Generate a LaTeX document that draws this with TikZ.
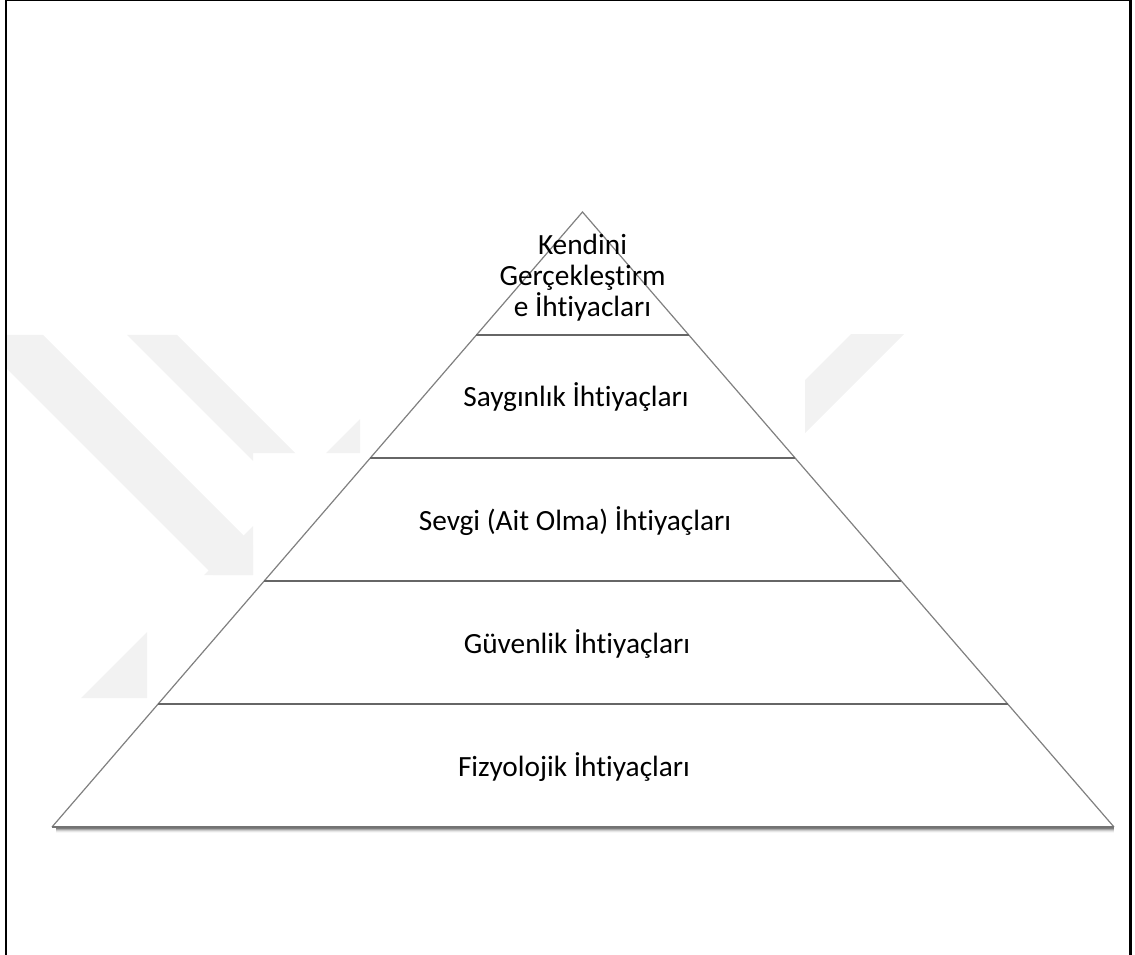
\documentclass[tikz,border=0pt]{standalone}
\usepackage{fontspec}
\setmainfont{Carlito}[Ligatures={NoCommon},RawFeature={-liga;-clig;-calt}]
\usetikzlibrary{calc}
\begin{document}
\begin{tikzpicture}[x=0.75pt,y=-0.75pt,
  side/.style={draw=black!50,line width=0.9pt},
  tier/.style={draw=black!60,line width=1.4pt},
  lbl/.style={font=\fontsize{22}{24}\selectfont,inner sep=0pt,anchor=base},
  wm/.style={fill=black!5,draw=none},
  frame/.style={draw=black,line width=1.9pt}]
\useasboundingbox (0,0) rectangle (1135,955);
% faint watermark
\begin{scope}
  \clip (7,335) -- (360,335) -- (360,453) -- (253,453) -- (253,575) -- (147,575) -- (147,698) -- (7,698) -- cycle;
  \fill[wm] (-62,300) -- (8,300) -- (408,700) -- (338,700) -- cycle;
  \fill[wm] (92,300) -- (142,300) -- (542,700) -- (492,700) -- cycle;
  \fill[wm] (479,300) -- (900,300) -- (900,800) -- (-21,800) -- cycle;
\end{scope}
\begin{scope}
  \clip (805,335) rectangle (1129,955);
  \fill[wm] (885,300) -- (938,300) -- (738,500) -- (685,500) -- cycle;
\end{scope}
% frame
\draw[frame] (6,955) -- (6,0);
\draw[frame] (1130.7,955) -- (1130.7,0);
\draw[draw=black,line width=1pt] (5,0.7) -- (1132,0.7);
% pyramid
\coordinate (apex) at (582.5,212);
\coordinate (bl) at (52,827);
\coordinate (br) at (1114,827);
\foreach \d/\o in {1/0.35,2/0.24,3/0.14,4/0.07,5/0.03}
  \draw[black,opacity=\o,line width=0.8pt] ($(bl)+(4,\d)$) -- ($(br)+(0,\d)$);
\fill[white] (apex) -- (bl) -- (br) -- cycle;
\draw[side] (bl) -- (apex) -- (br);
\draw[side,draw=black!55] (bl) -- (br);
\foreach \t in {0.2,0.4,0.6,0.8}
  \draw[tier] ($(apex)!\t!(bl)$) -- ($(apex)!\t!(br)$);
% labels
\node[lbl] (k1) at (582.5,255) {Kendini};
\node[lbl] (k2) at (582.5,286) {Gerçekleştirm};
\node[lbl] (k3) at (582.5,317) {e İhtiyacları};
\node[lbl] (s) at (576,406.7) {Saygınlık İhtiyaçları};
\node[lbl] (a) at (575,530) {Sevgi (Ait Olma) İhtiyaçları};
\node[lbl] (g) at (577,653.3) {Güvenlik İhtiyaçları};
\node[lbl] (f) at (574,776.7) {Fizyolojik İhtiyaçları};
\end{tikzpicture}
\end{document}
